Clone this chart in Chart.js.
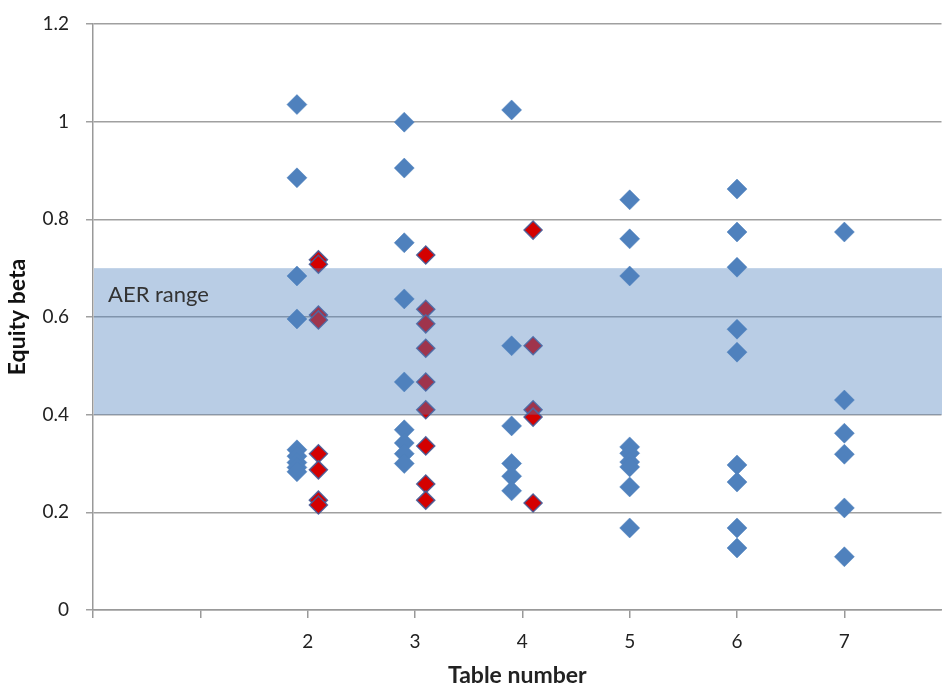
<!DOCTYPE html>
<html>
<head>
<meta charset="utf-8">
<script src="https://cdn.jsdelivr.net/npm/chart.js@4.4.1/dist/chart.umd.min.js"></script>
<style>
  html, body { margin: 0; padding: 0; background: #fff; overflow: hidden; }
  #wrap { width: 952px; height: 687px; }
</style>
</head>
<body>
<div id="wrap"><canvas id="betaChart"></canvas></div>
<script>
// Table numbers on the x axis
const tables = [2, 3, 4, 5, 6, 7];
const xTickValues = [0, 1, 2, 3, 4, 5, 6, 7];
const yTickValues = [0, 0.2, 0.4, 0.6, 0.8, 1, 1.2];

// Blue series, one list per table
const blueValues = [
  [1.035, 0.885, 0.684, 0.596, 0.328, 0.315, 0.302, 0.292, 0.283],
  [0.999, 0.905, 0.752, 0.637, 0.467, 0.369, 0.342, 0.32, 0.30],
  [1.024, 0.541, 0.377, 0.30, 0.274, 0.244],
  [0.840, 0.76, 0.684, 0.334, 0.321, 0.303, 0.293, 0.252, 0.168],
  [0.862, 0.774, 0.702, 0.575, 0.528, 0.297, 0.262, 0.168, 0.127],
  [0.774, 0.43, 0.362, 0.319, 0.209, 0.109]
];

// Red series, only tables 2 to 4
const redValues = [
  [0.717, 0.708, 0.604, 0.594, 0.32, 0.287, 0.225, 0.215],
  [0.727, 0.616, 0.586, 0.536, 0.467, 0.41, 0.336, 0.258, 0.225],
  [0.778, 0.541, 0.41, 0.395, 0.219],
  [], [], []
];

// AER range band
const aerLow = 0.4;
const aerHigh = 0.7;

const FONT = "Lato, 'Open Sans', sans-serif";

function buildPoints(values, shift) {
  const pts = [];
  tables.forEach((t, i) => {
    const hasPair = redValues[i].length > 0;
    values[i].forEach((v) => {
      pts.push({ x: hasPair ? t + shift : t, y: v });
    });
  });
  return pts;
}

// Band drawn over the points, semi-transparent like the original
const bandPlugin = {
  id: "aerBand",
  afterDatasetsDraw(chart) {
    const { ctx, chartArea, scales } = chart;
    const yTop = scales.y.getPixelForValue(aerHigh);
    const yBot = scales.y.getPixelForValue(aerLow);
    ctx.save();
    ctx.fillStyle = "rgba(79, 129, 189, 0.4)";
    ctx.fillRect(chartArea.left + 1, yTop, chartArea.right - chartArea.left, yBot - yTop);
    ctx.fillStyle = "#333";
    ctx.font = "22px " + FONT;
    ctx.textBaseline = "alphabetic";
    ctx.fillText("AER range", scales.x.getPixelForValue(0.14), scales.y.getPixelForValue(0.631));
    ctx.restore();
  },
};

const ctx = document.getElementById("betaChart").getContext("2d");
new Chart(ctx, {
  type: "scatter",
  data: {
    datasets: [
      {
        label: "Blue",
        data: buildPoints(blueValues, -0.1),
        pointStyle: "rectRot",
        pointRadius: 10,
        pointHoverRadius: 10,
        backgroundColor: "#4F81BD",
        borderColor: "#4F81BD",
        borderWidth: 0.5,
      },
      {
        label: "Red",
        data: buildPoints(redValues, 0.1),
        pointStyle: "rectRot",
        pointRadius: 9,
        pointHoverRadius: 9,
        backgroundColor: "#D40000",
        borderColor: "rgba(70, 90, 150, 0.9)",
        borderWidth: 1.5,
      },
    ],
  },
  options: {
    responsive: true,
    maintainAspectRatio: false,
    animation: false,
    layout: { padding: { top: 24, right: 0, left: 0, bottom: 0 } },
    plugins: { legend: { display: false }, tooltip: { enabled: false } },
    scales: {
      x: {
        type: "linear",
        min: 0,
        max: 7.905,
        afterBuildTicks: (s) => { s.ticks = xTickValues.map((v) => ({ value: v })); },
        afterFit: (s) => { s.height = 77; },
        grid: { drawOnChartArea: false, drawTicks: true, tickLength: 8, color: "#999", lineWidth: 1.5 },
        border: { display: true, color: "#999", width: 1.5 },
        ticks: {
          padding: 12,
          color: "#222",
          font: { family: FONT, size: 19 },
          callback: (v) => (v >= 2 ? String(v) : ""),
        },
        title: {
          display: true,
          text: "Table number",
          color: "#222",
          padding: { top: 0, bottom: 0 },
          font: { family: FONT, size: 23, weight: "bold", lineHeight: 1 },
        },
      },
      y: {
        min: 0,
        max: 1.2,
        afterBuildTicks: (s) => { s.ticks = yTickValues.map((v) => ({ value: v })); },
        afterFit: (s) => {
          s.width = 93;
          s.paddingTop = 0;
          s.paddingBottom = 0;
        },
        grid: { color: "#A0A0A0", lineWidth: 1.5, tickLength: 7 },
        border: { display: true, color: "#999", width: 1.5 },
        ticks: {
          padding: 17,
          color: "#222",
          font: { family: FONT, size: 19 },
          callback: (v) => String(Math.round(v * 10) / 10),
        },
        title: {
          display: true,
          text: "Equity beta",
          color: "#111",
          padding: { top: 6, bottom: 0 },
          font: { family: FONT, size: 23, weight: "bold", lineHeight: 1 },
        },
      },
    },
  },
  plugins: [bandPlugin],
});
</script>
</body>
</html>
